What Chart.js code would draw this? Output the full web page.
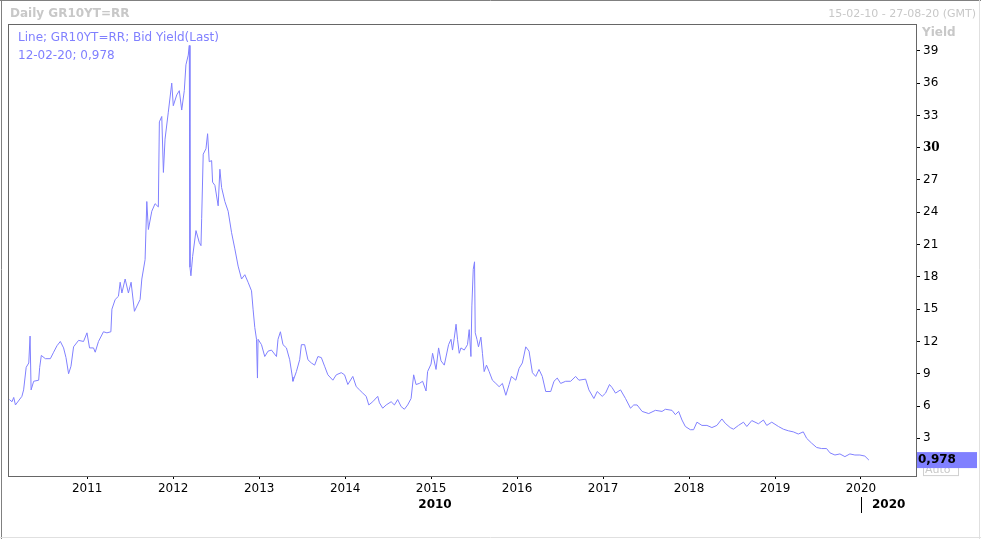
<!DOCTYPE html>
<html>
<head>
<meta charset="utf-8">
<script src="https://cdn.jsdelivr.net/npm/chart.js@4"></script>
<style>
  body { margin: 0; background: #fff; }
  canvas { display: block; }
</style>
</head>
<body>
<canvas id="yieldChart" width="981" height="539"></canvas>
<script>
// decimal years and bid yield values
const dates = [
  2010.095, 2010.125, 2010.145, 2010.165, 2010.24, 2010.26, 2010.29, 2010.32, 2010.335, 2010.347,
  2010.377, 2010.435, 2010.447, 2010.466, 2010.513, 2010.571, 2010.609, 2010.648, 2010.687, 2010.725,
  2010.753, 2010.783, 2010.811, 2010.841, 2010.899, 2010.957, 2010.997, 2011.027, 2011.073, 2011.093,
  2011.131, 2011.189, 2011.229, 2011.275, 2011.287, 2011.325, 2011.363, 2011.383, 2011.403, 2011.441,
  2011.479, 2011.51, 2011.549, 2011.615, 2011.635, 2011.673, 2011.693, 2011.711, 2011.751, 2011.789,
  2011.827, 2011.839, 2011.867, 2011.886, 2011.905, 2011.943, 2011.983, 2012.001, 2012.041, 2012.071,
  2012.099, 2012.129, 2012.148, 2012.175, 2012.187, 2012.195, 2012.206, 2012.226, 2012.265, 2012.303,
  2012.323, 2012.331, 2012.349, 2012.381, 2012.4, 2012.419, 2012.447, 2012.458, 2012.485, 2012.523,
  2012.543, 2012.563, 2012.601, 2012.639, 2012.679, 2012.717, 2012.755, 2012.795, 2012.833, 2012.871,
  2012.911, 2012.929, 2012.949, 2012.969, 2012.98, 2012.987, 2013.027, 2013.065, 2013.103, 2013.143,
  2013.201, 2013.219, 2013.247, 2013.277, 2013.317, 2013.355, 2013.386, 2013.393, 2013.433, 2013.471,
  2013.491, 2013.529, 2013.567, 2013.607, 2013.645, 2013.683, 2013.723, 2013.761, 2013.799, 2013.857,
  2013.897, 2013.955, 2013.993, 2014.031, 2014.089, 2014.129, 2014.167, 2014.205, 2014.245, 2014.275,
  2014.321, 2014.379, 2014.399, 2014.437, 2014.477, 2014.535, 2014.573, 2014.611, 2014.651, 2014.689,
  2014.727, 2014.767, 2014.797, 2014.825, 2014.863, 2014.901, 2014.941, 2014.959, 2014.999, 2015.017,
  2015.057, 2015.087, 2015.115, 2015.153, 2015.203, 2015.231, 2015.249, 2015.269, 2015.29, 2015.307,
  2015.327, 2015.347, 2015.385, 2015.423, 2015.443, 2015.463, 2015.474, 2015.49, 2015.505, 2015.513,
  2015.533, 2015.551, 2015.579, 2015.597, 2015.617, 2015.644, 2015.675, 2015.713, 2015.753, 2015.791,
  2015.829, 2015.869, 2015.907, 2015.934, 2015.985, 2016.023, 2016.061, 2016.101, 2016.139, 2016.178,
  2016.217, 2016.255, 2016.293, 2016.333, 2016.391, 2016.429, 2016.467, 2016.507, 2016.565, 2016.623,
  2016.681, 2016.719, 2016.797, 2016.835, 2016.893, 2016.932, 2016.99, 2017.029, 2017.075, 2017.106,
  2017.145, 2017.203, 2017.261, 2017.319, 2017.357, 2017.396, 2017.454, 2017.531, 2017.609, 2017.686,
  2017.725, 2017.802, 2017.841, 2017.879, 2017.918, 2017.957, 2018.015, 2018.053, 2018.092, 2018.15,
  2018.208, 2018.266, 2018.324, 2018.382, 2018.421, 2018.479, 2018.517, 2018.575, 2018.633, 2018.672,
  2018.73, 2018.807, 2018.865, 2018.904, 2018.962, 2019.04, 2019.097, 2019.155, 2019.213, 2019.271,
  2019.329, 2019.368, 2019.426, 2019.484, 2019.542, 2019.6, 2019.639, 2019.697, 2019.755, 2019.813,
  2019.871, 2019.929, 2019.987, 2020.045, 2020.092
];
const yields = [
  6.6, 6.4, 6.8, 6.1, 6.9, 7.5, 9.6, 10.0, 12.5, 7.5,
  8.3, 8.4, 9.6, 10.7, 10.4, 10.4, 11.0, 11.6, 12.0, 11.4,
  10.5, 9.0, 9.7, 11.5, 12.1, 12.0, 12.8, 11.4, 11.4, 11.0,
  12.0, 12.9, 12.8, 12.9, 15.0, 15.9, 16.2, 17.5, 16.5, 17.8,
  16.5, 17.5, 14.8, 15.9, 17.8, 19.6, 25.0, 22.4, 24.1, 24.8,
  24.5, 32.4, 32.9, 27.7, 30.8, 33.3, 36.0, 33.9, 34.9, 35.3,
  33.5, 35.3, 37.7, 38.6, 39.5, 18.9, 18.1, 19.9, 22.3, 21.2,
  20.9, 23.4, 29.4, 29.9, 31.3, 28.7, 28.8, 26.8, 26.5, 24.6,
  28.0, 26.3, 25.0, 24.1, 22.1, 20.6, 19.0, 17.8, 18.2, 17.5,
  16.7, 15.0, 13.3, 12.2, 8.6, 12.2, 11.7, 10.6, 11.1, 11.2,
  10.6, 12.2, 12.9, 11.7, 11.4, 10.3, 8.7, 8.3, 9.2, 10.3,
  11.7, 11.7, 10.3, 10.0, 9.8, 10.6, 10.5, 9.7, 8.9, 8.4,
  8.9, 9.1, 8.9, 8.0, 8.75, 7.8, 7.5, 7.2, 6.9, 6.1,
  6.4, 6.9, 6.3, 5.8, 6.1, 6.4, 6.1, 6.6, 5.95, 5.7,
  6.1, 6.7, 8.9, 8.0, 8.1, 8.3, 7.4, 9.2, 9.9, 10.9,
  9.4, 11.4, 10.2, 9.8, 11.7, 12.2, 11.2, 12.3, 13.6, 12.2,
  10.9, 11.4, 11.2, 11.7, 13.1, 10.6, 15.3, 18.7, 19.4, 12.8,
  12.2, 11.5, 12.4, 10.9, 9.2, 9.8, 9.2, 8.4, 8.1, 7.8,
  8.1, 7.0, 8.0, 8.75, 8.4, 9.5, 10.0, 11.5, 11.1, 9.1,
  8.75, 9.4, 8.75, 7.35, 7.35, 8.3, 8.6, 8.1, 8.3, 8.3,
  8.75, 8.4, 8.5, 7.5, 6.7, 7.35, 6.9, 7.2, 8.0, 7.7,
  7.2, 7.5, 6.7, 5.8, 6.1, 6.1, 5.5, 5.3, 5.6, 5.5,
  5.7, 5.6, 5.2, 5.5, 4.7, 4.1, 3.8, 3.8, 4.5, 4.2,
  4.2, 4.0, 4.2, 4.8, 4.4, 4.0, 3.85, 4.2, 4.5, 4.1,
  4.65, 4.35, 4.7, 4.2, 4.5, 4.1, 3.85, 3.7, 3.6, 3.4,
  3.6, 3.0, 2.55, 2.15, 2.05, 2.05, 1.65, 1.45, 1.55, 1.3,
  1.55, 1.45, 1.45, 1.35, 0.978
];
const yearTicks = [2011, 2012, 2013, 2014, 2015, 2016, 2017, 2018, 2019, 2020];
const yieldTicks = [3, 6, 9, 12, 15, 18, 21, 24, 27, 30, 33, 36, 39];
const startDate = 2010.09;
const endDate = 2020.64;
const lastLabel = '0,978';

const lineColor = '#8080ff';
const fontName = '"DejaVu Sans", Verdana, sans-serif';

const points = dates.map((d, i) => ({ x: d, y: yields[i] }));

const decorPlugin = {
    id: 'decor',
    afterDraw(chart) {
        const ctx = chart.ctx;
        const area = chart.chartArea;
        const xScale = chart.scales.x;
        const yScale = chart.scales.y;
        ctx.save();

        // outer frame
        ctx.lineWidth = 1;
        ctx.strokeStyle = '#808080';
        ctx.beginPath();
        ctx.moveTo(0, 0.5); ctx.lineTo(981, 0.5);
        ctx.moveTo(1.5, 0); ctx.lineTo(1.5, 539);
        ctx.stroke();
        ctx.strokeStyle = '#e0e0e0';
        ctx.beginPath();
        ctx.moveTo(979.5, 0); ctx.lineTo(979.5, 539);
        ctx.moveTo(0, 537.5); ctx.lineTo(981, 537.5);
        ctx.stroke();

        // plot box
        ctx.strokeStyle = '#666666';
        ctx.strokeRect(Math.round(area.left) - 0.5, Math.round(area.top) - 0.5,
            Math.round(area.right - area.left) + 1, Math.round(area.bottom - area.top) + 1);

        // header texts
        ctx.textBaseline = 'middle';
        ctx.fillStyle = '#c8c8c8';
        ctx.font = 'bold 12px ' + fontName;
        ctx.textAlign = 'left';
        ctx.fillText('Daily GR10YT=RR', 10, 14);
        ctx.font = '11px ' + fontName;
        ctx.textAlign = 'right';
        ctx.fillText('15-02-10 - 27-08-20 (GMT)', 976, 14);
        ctx.font = 'bold 12px ' + fontName;
        ctx.textAlign = 'left';
        ctx.fillText('Yield', area.right + 6, 33);

        // legend inside plot
        ctx.fillStyle = lineColor;
        ctx.font = '12px ' + fontName;
        ctx.fillText('Line; GR10YT=RR; Bid Yield(Last)', 18, 38);
        ctx.fillText('12-02-20; ' + lastLabel, 18, 56);

        // "Auto" button and last value marker
        const yLast = yScale.getPixelForValue(yields[yields.length - 1]);
        ctx.strokeStyle = '#d0d0d0';
        ctx.strokeRect(923.5, yLast + 3.5, 35, 12);
        ctx.fillStyle = '#c8c8c8';
        ctx.font = '11px ' + fontName;
        ctx.fillText('Auto', 925, yLast + 10);
        ctx.fillStyle = lineColor;
        ctx.fillRect(area.right + 1, yLast - 8, 60, 16);
        ctx.fillStyle = '#000';
        ctx.font = 'bold 12px ' + fontName;
        ctx.fillText(lastLabel, area.right + 2, yLast);

        // second row of x labels
        const x2020 = xScale.getPixelForValue(2020);
        ctx.font = 'bold 12px ' + fontName;
        ctx.textAlign = 'center';
        ctx.fillText('2010', (area.left + x2020) / 2, 505);
        ctx.textAlign = 'left';
        ctx.fillText('2020', x2020 + 11, 505);
        ctx.strokeStyle = '#000';
        ctx.beginPath();
        ctx.moveTo(Math.round(x2020) + 0.5, 497);
        ctx.lineTo(Math.round(x2020) + 0.5, 513);
        ctx.stroke();

        ctx.restore();
    }
};

const chart = new Chart(document.getElementById('yieldChart'), {
    type: 'line',
    data: {
        datasets: [{
            label: 'Bid Yield',
            data: points,
            borderColor: lineColor,
            borderWidth: 1,
            pointRadius: 0,
            tension: 0,
            fill: false
        }]
    },
    options: {
        responsive: false,
        animation: false,
        events: [],
        layout: { padding: { left: 9, top: 25, right: 20, bottom: 0 } },
        plugins: {
            legend: { display: false },
            tooltip: { enabled: false }
        },
        scales: {
            x: {
                type: 'linear',
                min: startDate,
                max: endDate,
                afterBuildTicks: axis => { axis.ticks = yearTicks.map(v => ({ value: v })); },
                afterFit: axis => { axis.height = 63; },
                grid: { drawOnChartArea: false, tickLength: 3, color: '#000' },
                border: { display: false },
                ticks: {
                    padding: 3,
                    maxRotation: 0,
                    autoSkip: false,
                    color: '#000',
                    font: { family: fontName, size: 12 },
                    callback: v => String(v)
                }
            },
            y: {
                position: 'right',
                min: -0.5,
                max: 41.4,
                afterBuildTicks: axis => { axis.ticks = yieldTicks.map(v => ({ value: v })); },
                afterFit: axis => { axis.width = 45; },
                grid: { drawOnChartArea: false, tickLength: 4, color: '#000' },
                border: { display: false },
                ticks: {
                    padding: 3,
                    autoSkip: false,
                    color: '#000',
                    font: ctx => ({
                        family: ctx.tick && ctx.tick.value === 30 ? '"DejaVu Serif", serif' : fontName,
                        size: 12,
                        weight: ctx.tick && ctx.tick.value === 30 ? 'bold' : 'normal'
                    }),
                    callback: v => String(v)
                }
            }
        }
    },
    plugins: [decorPlugin]
});
</script>
</body>
</html>
